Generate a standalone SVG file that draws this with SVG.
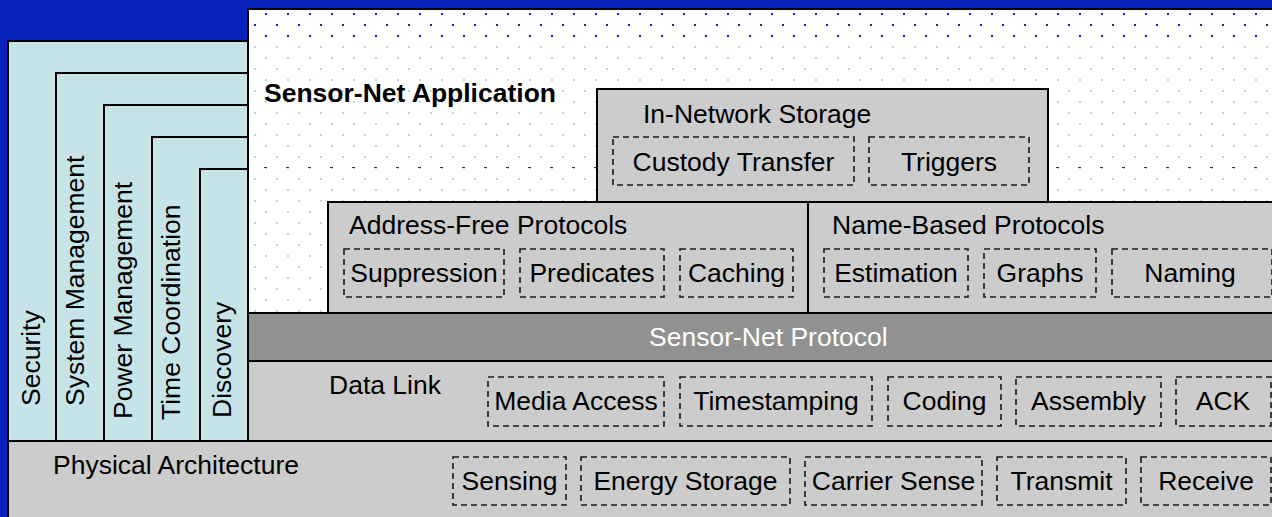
<svg xmlns="http://www.w3.org/2000/svg" width="1272" height="517" viewBox="0 0 1272 517">
<style>
text{font-family:"Liberation Sans",Arial,sans-serif;font-size:26.5px;fill:#000}
.b{font-weight:bold}
.w{fill:#fff}
.c{text-anchor:middle}
.layer{fill:#cccccc;stroke:#000;stroke-width:2}
.dk{fill:#919191;stroke:#000;stroke-width:2}
.ln{fill:none;stroke:#000;stroke-width:2}
.dash{fill:none;stroke:#1a1a1a;stroke-width:1.6;stroke-dasharray:6 4}
</style>
<defs>
<pattern id="cyanDots" patternUnits="userSpaceOnUse" x="254" y="2" width="22" height="22">
<rect x="0" y="0" width="2" height="2" fill="#b4dce2"/>
<rect x="11" y="11" width="2" height="2" fill="#b4dce2"/>
</pattern>
<pattern id="blueDots" patternUnits="userSpaceOnUse" x="254" y="2" width="22" height="22">
<rect x="0" y="0" width="2" height="2" fill="#1028c8"/>
<rect x="11" y="11" width="2" height="2" fill="#1028c8"/>
</pattern>
</defs>
<rect x="0" y="0" width="1272" height="517" fill="#0a22bd"/>
<g id="application">
<rect x="248" y="9" width="1030" height="310" fill="#fff"/>
<rect x="249" y="10" width="1023" height="31" fill="url(#blueDots)"/>
<rect x="249" y="41" width="1023" height="272" fill="url(#cyanDots)"/>
<line x1="264" y1="167.5" x2="1272" y2="167.5" stroke="#333" stroke-width="1" stroke-dasharray="3 19"/>
<path class="ln" d="M248,441 V9 H1272"/>
<text class="b" x="264" y="102">Sensor-Net Application</text>
</g>
<g id="side-services">
<rect x="8" y="41" width="240" height="400" fill="#c6e4e8" stroke="#000" stroke-width="2"/>
<path class="ln" d="M56,441 V73 H248 M104,441 V105 H248 M152,441 V137 H248 M200,441 V169 H248"/>
</g>
<g id="security"><text transform="translate(40,406) rotate(-90)">Security</text></g>
<g id="system-management"><text transform="translate(84,406) rotate(-90)">System Management</text></g>
<g id="power-management"><text transform="translate(132,419) rotate(-90)">Power Management</text></g>
<g id="time-coordination"><text transform="translate(180,420) rotate(-90)">Time Coordination</text></g>
<g id="discovery"><text transform="translate(231,418) rotate(-90)">Discovery</text></g>
<g id="in-network-storage">
<rect class="layer" x="597" y="89" width="451" height="113"/>
<text x="643" y="123">In-Network Storage</text>
<rect class="dash" x="613" y="137" width="241" height="48"/>
<text class="c" x="733.5" y="171">Custody Transfer</text>
<rect class="dash" x="869" y="137" width="160" height="48"/>
<text class="c" x="949" y="171">Triggers</text>
</g>
<g id="address-free-protocols">
<rect class="layer" x="328" y="202" width="480" height="111"/>
<text x="349" y="234">Address-Free Protocols</text>
<rect class="dash" x="344" y="249" width="160" height="48"/>
<text class="c" x="424" y="282">Suppression</text>
<rect class="dash" x="520" y="249" width="144" height="48"/>
<text class="c" x="592" y="282">Predicates</text>
<rect class="dash" x="680" y="249" width="113" height="48"/>
<text class="c" x="736.5" y="282">Caching</text>
</g>
<g id="name-based-protocols">
<rect class="layer" x="808" y="202" width="470" height="111"/>
<text x="832" y="234">Name-Based Protocols</text>
<rect class="dash" x="824" y="249" width="144" height="48"/>
<text class="c" x="896" y="282">Estimation</text>
<rect class="dash" x="984" y="249" width="112" height="48"/>
<text class="c" x="1040" y="282">Graphs</text>
<rect class="dash" x="1112" y="249" width="160" height="48"/>
<text class="c" x="1190" y="282">Naming</text>
</g>
<g id="sensor-net-protocol">
<rect class="dk" x="248" y="313" width="1030" height="48"/>
<text class="w" x="649" y="346">Sensor-Net Protocol</text>
</g>
<g id="data-link">
<rect class="layer" x="248" y="361" width="1030" height="80"/>
<text x="329" y="394">Data Link</text>
<rect class="dash" x="488" y="377" width="176" height="49"/>
<text class="c" x="576" y="410">Media Access</text>
<rect class="dash" x="680" y="377" width="192" height="49"/>
<text class="c" x="776" y="410">Timestamping</text>
<rect class="dash" x="888" y="377" width="113" height="49"/>
<text class="c" x="944.5" y="410">Coding</text>
<rect class="dash" x="1016" y="377" width="145" height="49"/>
<text class="c" x="1088.5" y="410">Assembly</text>
<rect class="dash" x="1176" y="377" width="95" height="49"/>
<text class="c" x="1223" y="410">ACK</text>
</g>
<g id="physical-architecture">
<rect class="layer" x="8" y="441" width="1270" height="84"/>
<text x="53" y="474">Physical Architecture</text>
<rect class="dash" x="453" y="457" width="113" height="48"/>
<text class="c" x="509.5" y="490">Sensing</text>
<rect class="dash" x="581" y="457" width="209" height="48"/>
<text class="c" x="685.5" y="490">Energy Storage</text>
<rect class="dash" x="805" y="457" width="177" height="48"/>
<text class="c" x="893.5" y="490">Carrier Sense</text>
<rect class="dash" x="997" y="457" width="129" height="48"/>
<text class="c" x="1061.5" y="490">Transmit</text>
<rect class="dash" x="1141" y="457" width="130" height="48"/>
<text class="c" x="1206" y="490">Receive</text>
</g>
<g id="connectors"/>
</svg>
